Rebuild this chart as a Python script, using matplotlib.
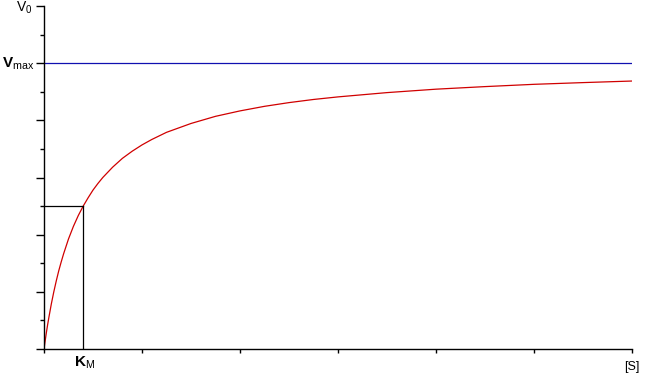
import matplotlib
matplotlib.use("Agg")
import matplotlib.pyplot as plt
from matplotlib.ticker import MultipleLocator

# substrate concentration [S] (axis units) and rate V0
s_vals = [0, 0.0125, 0.025, 0.0375, 0.05, 0.075, 0.1, 0.125, 0.15, 0.175,
          0.2, 0.25, 0.3, 0.35, 0.4, 0.45, 0.5, 0.55, 0.6, 0.7, 0.8, 0.9,
          1.0, 1.1, 1.25, 1.5, 1.75, 2.0, 2.25, 2.5, 2.75, 3.0, 3.5, 4.0,
          4.5, 5.0, 5.5, 6.0]
v_vals = [0, 0.30, 0.59, 0.86, 1.11, 1.58, 2.0, 2.38, 2.73, 3.04,
          3.33, 3.85, 4.29, 4.67, 5.0, 5.29, 5.56, 5.79, 6.0, 6.36, 6.67, 6.92,
          7.14, 7.33, 7.58, 7.89, 8.14, 8.33, 8.49, 8.62, 8.73, 8.82, 8.97, 9.09,
          9.18, 9.26, 9.32, 9.375]
vmax = 10
km = 0.4

plt.rcParams["mathtext.fontset"] = "custom"
plt.rcParams["mathtext.rm"] = "Liberation Sans"
plt.rcParams["mathtext.bf"] = "Liberation Sans:bold"
plt.rcParams["font.family"] = "Liberation Sans"

fig = plt.figure(figsize=(6.47, 3.84), dpi=100)
ax = fig.add_axes([44 / 647, 1 - 349 / 384, 588 / 647, 343 / 384])

ax.plot(s_vals, v_vals, color="#d00000", lw=0.9)
ax.axhline(vmax, color="#1010b0", lw=0.9)
# Km guide lines
ax.plot([km, km], [0, vmax / 2], color="black", lw=0.9)
ax.plot([0, km], [vmax / 2, vmax / 2], color="black", lw=0.9)

ax.set_xlim(0, 6)
ax.set_ylim(0, 12)
for side in ("top", "right"):
    ax.spines[side].set_visible(False)
ax.spines["left"].set_linewidth(1)
ax.spines["bottom"].set_linewidth(1)

ax.yaxis.set_major_locator(MultipleLocator(2))
ax.yaxis.set_minor_locator(MultipleLocator(1))
ax.xaxis.set_major_locator(MultipleLocator(1))
ax.tick_params(axis="y", which="major", length=6, width=1, labelleft=False)
ax.tick_params(axis="y", which="minor", length=3, width=1)
ax.tick_params(axis="x", which="major", length=3, width=1, labelbottom=False)

ax.annotate(r"$\mathbf{V}_{\mathrm{max}}$", xy=(0, vmax),
            xycoords=("axes fraction", "data"), xytext=(-10, 0),
            textcoords="offset pixels", ha="right", va="center", fontsize=11)
ax.annotate(r"$\mathbf{K}_{\mathrm{M}}$", xy=(km, 0),
            xycoords="data", xytext=(1, -5),
            textcoords="offset pixels", ha="center", va="top", fontsize=11)
ax.annotate(r"$\mathrm{V}_{0}$", xy=(0, 12),
            xycoords="data", xytext=(-12, 6),
            textcoords="offset pixels", ha="right", va="top", fontsize=10)
ax.annotate("[S]", xy=(6, 0), xycoords="data", xytext=(0, -12),
            textcoords="offset pixels", ha="center", va="top", fontsize=9)

fig.savefig("out.png", dpi=100)
